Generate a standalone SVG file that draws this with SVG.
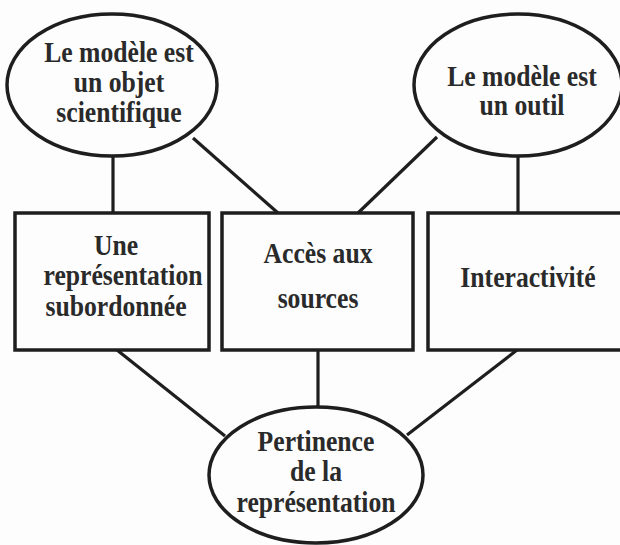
<svg xmlns="http://www.w3.org/2000/svg" width="620" height="545" viewBox="0 0 620 545">
<style>
.shape{fill:#fdfdfd;stroke:#1e1e1e;stroke-width:3.5}
.conn line{stroke:#1e1e1e;stroke-width:3.2}
text{font-family:"Liberation Serif","Times New Roman",serif;font-weight:bold;font-size:28.5px;fill:#2a2a2a;text-anchor:middle}
</style>
<rect x="0" y="0" width="620" height="545" fill="#fdfdfd"/>
<g id="connectors" class="conn">
<line x1="113" y1="155" x2="113" y2="213"/>
<line x1="193" y1="138" x2="278" y2="213"/>
<line x1="437" y1="137" x2="358" y2="213"/>
<line x1="518" y1="156" x2="518" y2="213"/>
<line x1="117" y1="350" x2="225" y2="436"/>
<line x1="318" y1="350" x2="318" y2="407"/>
<line x1="517" y1="350" x2="407" y2="435"/>
</g>
<g id="n-objet">
<ellipse class="shape" cx="112" cy="85" rx="105" ry="71"/>
<text transform="translate(119 62) scale(0.9 1)">Le modèle est</text>
<text transform="translate(119 92) scale(0.9 1)">un objet</text>
<text transform="translate(119 122) scale(0.9 1)">scientifique</text>
</g>
<g id="n-outil">
<ellipse class="shape" cx="518" cy="85" rx="104" ry="71"/>
<text transform="translate(522 86) scale(0.9 1)">Le modèle est</text>
<text transform="translate(522 115) scale(0.9 1)">un outil</text>
</g>
<g id="n-subordonnee">
<rect class="shape" x="15" y="213" width="194" height="137"/>
<text transform="translate(116 255) scale(0.9 1)">Une</text>
<text transform="translate(123 285) scale(0.9 1)">représentation</text>
<text transform="translate(116 316) scale(0.9 1)">subordonnée</text>
</g>
<g id="n-acces">
<rect class="shape" x="222" y="213" width="191" height="137"/>
<text transform="translate(318 263) scale(0.9 1)">Accès aux</text>
<text transform="translate(318 308) scale(0.9 1)">sources</text>
</g>
<g id="n-interactivite">
<rect class="shape" x="428" y="213" width="196" height="137"/>
<text transform="translate(528 287) scale(0.9 1)">Interactivité</text>
</g>
<g id="n-pertinence">
<ellipse class="shape" cx="316" cy="475" rx="107" ry="68"/>
<text transform="translate(316 451) scale(0.9 1)">Pertinence</text>
<text transform="translate(316 481) scale(0.9 1)">de la</text>
<text transform="translate(316 512) scale(0.9 1)">représentation</text>
</g>
</svg>
